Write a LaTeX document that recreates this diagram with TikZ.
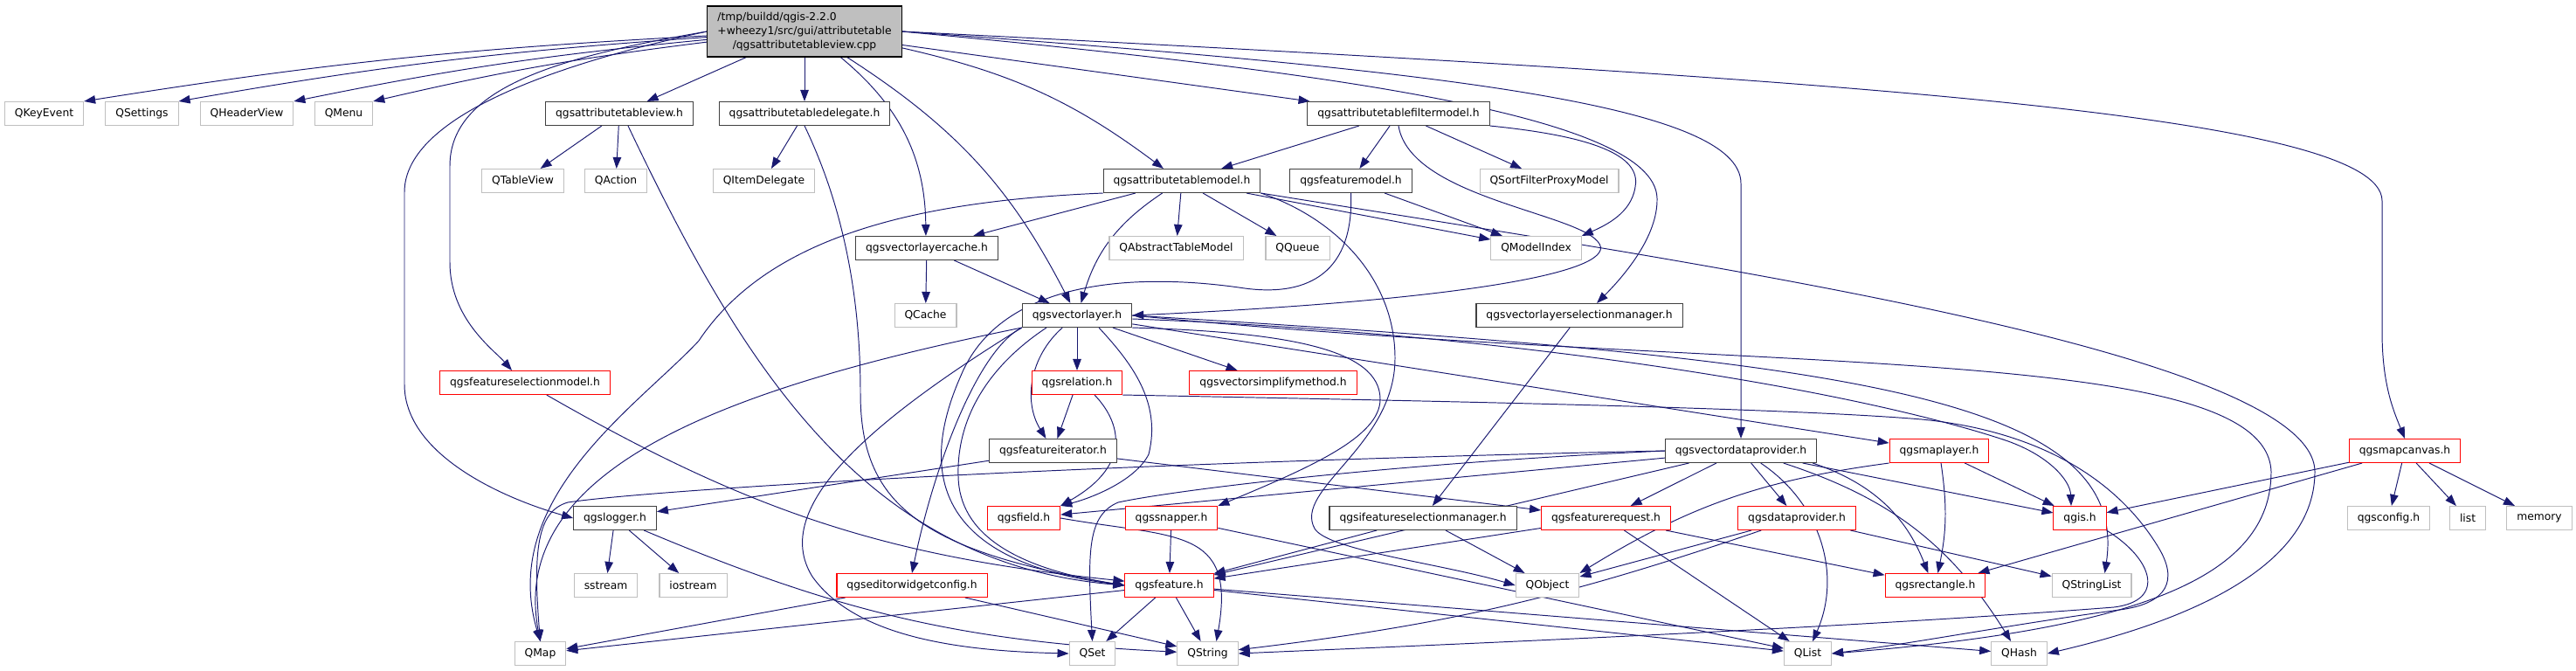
\documentclass[tikz,border=0pt]{standalone}
\usepackage{fontspec}
\setmainfont{DejaVu Sans}
\usetikzlibrary{arrows.meta}
\definecolor{edgeblue}{HTML}{191970}
\definecolor{extgray}{HTML}{BFBFBF}
\definecolor{hdrgray}{HTML}{404040}
\pgfdeclarelayer{bg}
\pgfsetlayers{bg,main}

\begin{document}
\begin{tikzpicture}[>={Triangle[length=0.26cm,width=0.19cm]},font=\fontsize{7}{9.1}\selectfont,x=1.000cm,y=1.000cm,
 hdr/.style={draw=hdrgray,fill=white,line width=0.6pt,inner xsep=0.23cm,inner ysep=0pt,minimum height=0.54cm},
 ext/.style={hdr,draw=extgray},
 trunc/.style={hdr,draw=red},
 src/.style={hdr,draw=black,fill=extgray,minimum height=1.16cm},
 dep/.style={->,draw=edgeblue,line width=0.55pt}]
\useasboundingbox (0,0) rectangle (58.980,-15.360);
% the file itself
\node[src] (root) at (18.420,-0.720) {\begin{tabular}{@{}l@{}}/tmp/buildd/qgis-2.2.0\\+wheezy1/src/gui/attributetable\\\multicolumn{1}{@{}c@{}}{/qgsattributetableview.cpp}\end{tabular}};
% row 1
\node[ext] (qkeyevent) at (1.010,-2.600) {QKeyEvent};
\node[ext] (qsettings) at (3.250,-2.600) {QSettings};
\node[ext] (qheaderview) at (5.650,-2.600) {QHeaderView};
\node[ext] (qmenu) at (7.870,-2.600) {QMenu};
\node[hdr] (attrview) at (14.180,-2.600) {qgsattributetableview.h};
\node[hdr] (attrdelegate) at (18.420,-2.600) {qgsattributetabledelegate.h};
\node[hdr] (attrfilter) at (32.020,-2.600) {qgsattributetablefiltermodel.h};
% row 2
\node[ext] (qtableview) at (11.970,-4.140) {QTableView};
\node[ext] (qaction) at (14.100,-4.140) {QAction};
\node[ext] (qitemdelegate) at (17.490,-4.140) {QItemDelegate};
\node[hdr] (attrmodel) at (27.060,-4.140) {qgsattributetablemodel.h};
\node[hdr] (featmodel) at (30.930,-4.140) {qgsfeaturemodel.h};
\node[ext] (qsortfilter) at (35.470,-4.140) {QSortFilterProxyModel};
% row 3
\node[hdr] (vlcache) at (21.220,-5.680) {qgsvectorlayercache.h};
\node[ext] (qabstracttable) at (26.930,-5.680) {QAbstractTableModel};
\node[ext] (qqueue) at (29.710,-5.680) {QQueue};
\node[ext] (qmodelindex) at (35.170,-5.680) {QModelIndex};
% row 4
\node[ext] (qcache) at (21.190,-7.220) {QCache};
\node[hdr] (vlayer) at (24.660,-7.220) {qgsvectorlayer.h};
\node[hdr] (vlselmgr) at (36.160,-7.220) {qgsvectorlayerselectionmanager.h};
% row 5
\node[trunc] (featselmodel) at (12.020,-8.760) {qgsfeatureselectionmodel.h};
\node[trunc] (relation) at (24.660,-8.760) {qgsrelation.h};
\node[trunc] (simplify) at (29.150,-8.760) {qgsvectorsimplifymethod.h};
% row 6
\node[hdr] (featiter) at (24.110,-10.320) {qgsfeatureiterator.h};
\node[hdr] (vdataprov) at (39.860,-10.320) {qgsvectordataprovider.h};
\node[trunc] (maplayer) at (44.400,-10.320) {qgsmaplayer.h};
\node[trunc] (mapcanvas) at (55.060,-10.320) {qgsmapcanvas.h};
% row 7
\node[hdr] (logger) at (14.080,-11.860) {qgslogger.h};
\node[trunc] (field) at (23.440,-11.860) {qgsfield.h};
\node[trunc] (snapper) at (26.820,-11.860) {qgssnapper.h};
\node[hdr] (ifeatselmgr) at (32.580,-11.860) {qgsifeatureselectionmanager.h};
\node[trunc] (featrequest) at (36.770,-11.860) {qgsfeaturerequest.h};
\node[trunc] (dataprov) at (41.140,-11.860) {qgsdataprovider.h};
\node[trunc] (qgis) at (47.620,-11.860) {qgis.h};
\node[ext] (qgsconfig) at (54.690,-11.860) {qgsconfig.h};
\node[ext] (list) at (56.500,-11.860) {list};
\node[ext] (memory) at (58.140,-11.860) {memory};
% row 8
\node[ext] (sstream) at (13.870,-13.400) {sstream};
\node[ext] (iostream) at (15.870,-13.400) {iostream};
\node[trunc] (editorcfg) at (20.880,-13.400) {qgseditorwidgetconfig.h};
\node[trunc] (feature) at (26.770,-13.400) {qgsfeature.h};
\node[ext] (qobject) at (35.430,-13.400) {QObject};
\node[trunc] (rectangle) at (44.310,-13.400) {qgsrectangle.h};
\node[ext] (qstringlist) at (47.890,-13.400) {QStringList};
% row 9
\node[ext] (qmap) at (12.370,-14.960) {QMap};
\node[ext] (qset) at (25.010,-14.960) {QSet};
\node[ext] (qstring) at (27.650,-14.960) {QString};
\node[ext] (qlist) at (41.390,-14.960) {QList};
\node[ext] (qhash) at (46.230,-14.960) {QHash};

\begin{pgfonlayer}{bg}
% includes of the file itself
\draw[dep] (root) to[bend right=3] (qkeyevent.north east);
\draw[dep] (root) to[bend right=3] (qsettings.north east);
\draw[dep] (root) to[bend right=3] (qheaderview.north east);
\draw[dep] (root) to[bend right=3] (qmenu.north east);
\draw[dep] (root) -- (attrview);
\draw[dep] (root) -- (attrdelegate);
\draw[dep] (root) to[bend left=12] (attrmodel);
\draw[dep] (root) -- (attrfilter);
\draw[dep] (root) to[bend left=25] (vlcache);
\draw[dep] (root) to[bend left=15] (vlayer);
\draw[dep] (root.west) .. controls (12.800,-1.300) and (10.300,-2.000) .. (10.300,-3.800) -- (10.300,-6.000) .. controls (10.300,-7.300) and (11.300,-8.000) .. ([xshift=-0.3cm]featselmodel.north);
\draw[dep] (root.west) .. controls (13.000,-1.400) and (9.260,-2.600) .. (9.260,-4.400) -- (9.260,-8.800) .. controls (9.260,-10.400) and (11.500,-11.400) .. (logger.west);
\draw[dep] (root.east) .. controls (30.000,-1.600) and (37.900,-2.600) .. (37.940,-4.540) .. controls (37.960,-5.400) and (37.200,-6.300) .. ([xshift=0.4cm]vlselmgr.north);
\draw[dep] (root.east) .. controls (33.000,-1.600) and (39.860,-2.400) .. (39.860,-4.200) -- (vdataprov.north);
\draw[dep] (root.east) .. controls (42.000,-1.800) and (54.540,-2.600) .. (54.540,-4.600) -- (54.540,-7.600) .. controls (54.540,-8.800) and (54.800,-9.400) .. (mapcanvas.north);
% qgsattributetableview.h and qgsattributetabledelegate.h
\draw[dep] (attrview) -- (qtableview);
\draw[dep] (attrview) -- (qaction);
\draw[dep] ([xshift=0.2cm]attrview.south) .. controls (17.000,-8.400) and (19.800,-12.900) .. (feature.west);
\draw[dep] (attrdelegate) -- (qitemdelegate);
\draw[dep] (attrdelegate.south) .. controls (19.200,-4.500) and (19.700,-6.500) .. (19.700,-9.000) .. controls (19.700,-11.500) and (21.000,-12.600) .. (feature.west);
% qgsattributetablefiltermodel.h
\draw[dep] (attrfilter) -- (attrmodel);
\draw[dep] (attrfilter) -- (featmodel);
\draw[dep] (attrfilter) -- (qsortfilter);
\draw[dep] (attrfilter.south east) .. controls (36.300,-3.100) and (37.500,-3.500) .. (37.450,-4.200) .. controls (37.400,-4.800) and (36.900,-5.100) .. (qmodelindex.north east);
\draw[dep] (attrfilter.south) .. controls (32.300,-4.600) and (36.500,-4.900) .. (36.650,-5.660) .. controls (36.700,-6.300) and (33.000,-6.900) .. (vlayer.east);
% qgsattributetablemodel.h
\draw[dep] (attrmodel) -- (vlcache);
\draw[dep] (attrmodel) to[bend right=20] (vlayer);
\draw[dep] (attrmodel) -- (qabstracttable);
\draw[dep] (attrmodel) -- (qqueue);
\draw[dep] (attrmodel) -- (qmodelindex);
\draw[dep] (attrmodel.south west) .. controls (21.000,-4.600) and (17.600,-5.400) .. (16.000,-7.800) .. controls (14.600,-9.300) and (11.400,-11.400) .. (qmap.north);
\draw[dep] (attrmodel.south east) .. controls (30.600,-5.000) and (31.940,-6.400) .. (31.940,-8.200) .. controls (31.940,-10.200) and (29.600,-11.200) .. (30.100,-12.100) .. controls (30.400,-12.600) and (33.000,-12.900) .. (qobject.west);
\draw[dep] (attrmodel.south east) .. controls (38.000,-5.900) and (53.000,-8.000) .. (53.000,-10.800) .. controls (53.000,-12.600) and (51.000,-14.000) .. (qhash.east);
% qgsfeaturemodel.h
\draw[dep] (featmodel) -- (qmodelindex);
\draw[dep] (featmodel.south) .. controls (31.000,-6.200) and (30.000,-6.800) .. (28.500,-6.600) .. controls (26.500,-6.300) and (23.000,-6.200) .. (22.000,-8.600) .. controls (21.200,-10.400) and (21.000,-12.800) .. (feature.west);
% qgsvectorlayercache.h
\draw[dep] (vlcache) -- (qcache);
\draw[dep] (vlcache) -- (vlayer);
% qgsvectorlayer.h
\draw[dep] (vlayer) -- (relation);
\draw[dep] (vlayer) -- (simplify);
\draw[dep] (vlayer) to[bend right=40] (featiter);
\draw[dep] ([xshift=0.5cm]vlayer.south) .. controls (25.900,-8.300) and (26.600,-9.200) .. (26.300,-10.400) .. controls (26.000,-11.000) and (25.000,-11.400) .. (field.north east);
\draw[dep] (vlayer.south west) .. controls (22.400,-8.000) and (21.400,-10.600) .. (editorcfg.north);
\draw[dep] ([xshift=-0.7cm]vlayer.south) .. controls (22.600,-8.400) and (21.900,-9.600) .. (21.940,-10.900) .. controls (21.960,-12.200) and (23.200,-13.000) .. (feature.west);
\draw[dep] (vlayer.south west) .. controls (17.000,-8.800) and (11.600,-10.600) .. (qmap.north);
\draw[dep] (vlayer.south west) .. controls (20.000,-9.600) and (17.600,-11.600) .. (18.600,-13.200) .. controls (19.600,-14.600) and (22.000,-14.900) .. (qset.west);
\draw[dep] (vlayer.south east) .. controls (29.500,-7.600) and (31.600,-8.000) .. (31.600,-9.140) .. controls (31.600,-10.000) and (30.000,-10.700) .. (snapper.north east);
\draw[dep] (vlayer) -- (maplayer);
\draw[dep] ([yshift=-0.08cm]vlayer.east) .. controls (34.000,-7.600) and (42.000,-8.800) .. (45.860,-10.060) .. controls (46.900,-10.400) and (47.400,-11.000) .. ([xshift=-0.2cm]qgis.north);
\draw[dep] (vlayer.east) .. controls (42.000,-8.200) and (48.800,-9.000) .. ([xshift=0.3cm]qstringlist.north);
\draw[dep] (vlayer.east) .. controls (40.000,-8.600) and (51.900,-7.800) .. (52.000,-10.800) .. controls (52.000,-13.200) and (49.000,-14.400) .. (qlist.east);
% qgsrelation.h
\draw[dep] (relation) -- (featiter);
\draw[dep] ([xshift=0.4cm]relation.south) .. controls (25.600,-9.600) and (26.000,-10.600) .. (field.north east);
\draw[dep] (relation.south east) .. controls (34.000,-9.200) and (41.000,-9.350) .. (44.000,-9.600) .. controls (47.000,-9.900) and (48.600,-11.200) .. (49.400,-12.500) .. controls (49.900,-13.300) and (49.600,-13.800) .. (48.600,-13.950) .. controls (46.000,-14.300) and (44.000,-14.700) .. (qlist.east);
% qgsfeatureiterator.h
\draw[dep] (featiter) -- (logger);
\draw[dep] (featiter) -- (featrequest);
% qgsvectordataprovider.h
\draw[dep] (vdataprov) -- (featrequest);
\draw[dep] (vdataprov) -- (dataprov);
\draw[dep] (vdataprov) -- (qgis);
\draw[dep] (vdataprov) to[bend left=25] (rectangle);
\draw[dep] (vdataprov) to[bend left=40] (qlist);
\draw[dep] (vdataprov) to[bend left=20] (qhash);
\draw[dep] (vdataprov) -- (field);
\draw[dep] (vdataprov) -- (feature);
\draw[dep] (vdataprov.west) .. controls (25.000,-10.600) and (15.000,-11.200) .. (13.000,-11.500) .. controls (12.300,-11.700) and (12.200,-12.600) .. (qmap.north);
\draw[dep] (vdataprov.west) .. controls (32.000,-10.600) and (27.000,-11.200) .. (25.600,-11.500) .. controls (24.900,-11.800) and (24.900,-12.600) .. (qset.north);
% qgsmaplayer.h and qgsdataprovider.h
\draw[dep] (maplayer) -- (qgis);
\draw[dep] (maplayer) to[bend left=10] (rectangle);
\draw[dep] (maplayer.south west) to[bend right=12] (qobject.north east);
\draw[dep] (dataprov) -- (qobject);
\draw[dep] (dataprov) -- (qstringlist);
\draw[dep] (dataprov) to[bend left=6] (qstring);
% qgsfeaturerequest.h and the selection managers
\draw[dep] (featrequest) -- (feature);
\draw[dep] (featrequest) -- (rectangle);
\draw[dep] (featrequest) -- (qlist);
\draw[dep] (ifeatselmgr) -- (feature);
\draw[dep] (ifeatselmgr) -- (qobject);
\draw[dep] (vlselmgr) -- (ifeatselmgr);
\draw[dep] (featselmodel) to[bend right=12] (feature);
% qgslogger.h
\draw[dep] (logger) -- (sstream);
\draw[dep] (logger) -- (iostream);
\draw[dep] (logger) to[bend right=10] (qstring);
% qgsfield.h, qgssnapper.h, qgseditorwidgetconfig.h
\draw[dep] (field.east) to[out=-10,in=80,looseness=1.5] ([xshift=0.2cm]qstring.north);
\draw[dep] (snapper) -- (feature);
\draw[dep] (snapper) -- (qlist);
\draw[dep] (editorcfg) -- (qmap);
\draw[dep] (editorcfg) -- (qstring);
% qgsfeature.h
\draw[dep] (feature) -- (qmap);
\draw[dep] (feature) -- (qset);
\draw[dep] (feature) -- (qstring);
\draw[dep] (feature) -- (qlist);
\draw[dep] (feature) -- (qhash);
% qgis.h
\draw[dep] (qgis.south east) .. controls (49.300,-12.800) and (49.600,-13.750) .. (48.400,-13.900) .. controls (42.000,-14.400) and (32.000,-14.800) .. (qstring.east);
% qgsmapcanvas.h
\draw[dep] (mapcanvas) -- (qgsconfig);
\draw[dep] (mapcanvas) -- (list);
\draw[dep] (mapcanvas) -- (memory);
\draw[dep] (mapcanvas) -- (qgis);
\draw[dep] (mapcanvas) -- (rectangle);
\end{pgfonlayer}
\end{tikzpicture}
\end{document}
